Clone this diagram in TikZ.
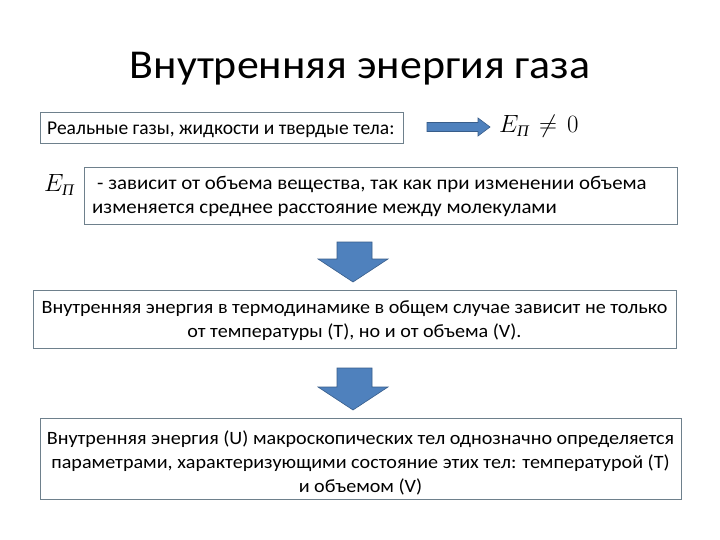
\documentclass[tikz,border=0pt]{standalone}
\usepackage{amsmath}
\usepackage{fontspec}
\setmainfont{Carlito}
\newfontfamily\bodyfont[FakeStretch=1.07]{Carlito}
\newfontfamily\cyrit[ItalicFont={Liberation Serif Italic}]{Liberation Serif}
\usetikzlibrary{arrows.meta}
\definecolor{boxline}{RGB}{110,128,140}
\definecolor{arrfill}{RGB}{79,129,189}
\definecolor{arrline}{RGB}{56,93,138}
\tikzset{
  box/.style={draw=boxline, line width=0.9pt, fill=white, inner sep=0pt},
  blockarrow/.style={fill=arrfill, draw=arrline, line width=0.6pt},
  txt/.style={inner sep=0pt, anchor=base},
  body/.style={txt, font=\bodyfont\fontsize{18.8}{21}\selectfont},
  mathtxt/.style={txt, anchor=base west, font=\fontsize{23}{25}\selectfont}
}
\newcommand{\EP}{\ensuremath{E_{\text{\cyrit\itshape П}}}}
\begin{document}
\begin{tikzpicture}[x=1pt,y=-1pt]
\useasboundingbox (0,0) rectangle (720,540);
\fill[white] (0,0) rectangle (720,540);

% title
\node[txt, font=\bodyfont\fontsize{41}{44}\selectfont] (title) at (360,79) {Внутренняя энергия газа};

% box 1
\draw[box] (40,112) rectangle (403,143);
\node[txt, anchor=base west, font=\fontsize{19.5}{21}\selectfont] (t1) at (47,135) {Реальные газы, жидкости и твердые тела:};

% right arrow
\draw[blockarrow] (427,122.5) -- (478,122.5) -- (478,118) -- (490,127) -- (478,136) -- (478,131.5) -- (427,131.5) -- cycle;
\node[mathtxt] (ep1) at (499,133) {\EP};
\node[mathtxt] (neq) at (539,133) {$\neq$};
\node[mathtxt] (zero) at (567,133) {$0$};

% E_P left
\node[mathtxt] (ep2) at (44,192) {\EP};

% box 2
\draw[box] (84,167) rectangle (677,224);
\node[body, anchor=base west, font=\bodyfont\fontsize{19.5}{21}\selectfont] (t2) at (97,190) {- зависит от объема вещества, так как при изменении объема};
\node[body, anchor=base west, font=\bodyfont\fontsize{19.5}{21}\selectfont] (t2b) at (92,214) {изменяется среднее расстояние между молекулами};

% down arrow 1
\draw[blockarrow] (337,242) -- (372,242) -- (372,259) -- (388,259) -- (353,282) -- (318,259) -- (337,259) -- cycle;

% box 3
\draw[box] (33,290) rectangle (676,348);
\node[body] (t3a) at (354.5,313) {Внутренняя энергия в термодинамике в общем случае зависит не только};
\node[body] (t3b) at (354.5,337) {от температуры (T), но и от объема (V).};

% down arrow 2
\draw[blockarrow] (337,368) -- (372,368) -- (372,387) -- (388,387) -- (353,410) -- (318,387) -- (337,387) -- cycle;

% box 4
\draw[box] (40,418) rectangle (681,499);
\node[body] (t4a) at (360.5,444) {Внутренняя энергия (U) макроскопических тел однозначно определяется};
\node[body] (t4b) at (360.5,468) {параметрами, характеризующими состояние этих тел: температурой (T)};
\node[body] (t4c) at (360.5,492) {и объемом (V)};
\end{tikzpicture}
\end{document}
